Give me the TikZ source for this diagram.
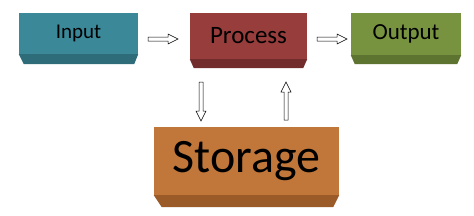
\documentclass[tikz,border=0pt]{standalone}
\usepackage{fontspec}
\setmainfont{Carlito}
\usetikzlibrary{calc}
\definecolor{inface}{HTML}{3B8899}
\definecolor{indark}{HTML}{2E6C7A}
\definecolor{prface}{HTML}{973D3C}
\definecolor{prdark}{HTML}{722C2C}
\definecolor{ouface}{HTML}{78933F}
\definecolor{oudark}{HTML}{5D7330}
\definecolor{stface}{HTML}{C2773A}
\definecolor{stdark}{HTML}{9B5B28}
\tikzset{
  face/.style={rectangle, inner sep=0pt, text=black},
  arrowline/.style={draw=black, fill=white, line width=0.5pt, line join=miter},
}
\newcommand{\blockarrow}[2]{%
  \coordinate (hb) at ($(#2)!10pt!(#1)$);
  \draw[arrowline] ($(#1)!2pt!90:(#2)$) -- ($(hb)!2pt!90:(#2)$) -- ($(hb)!5pt!90:(#2)$) -- (#2)
    -- ($(hb)!5pt!-90:(#2)$) -- ($(hb)!2pt!-90:(#2)$) -- ($(#1)!2pt!-90:(#2)$) -- cycle;}
\newcommand{\bevel}[5]{% name, depth, left inset, right inset, colour
  \fill[#5] (#1.south west) -- (#1.south east) -- ($(#1.south east)+(-#4,#2)$) -- ($(#1.south west)+(#3,#2)$) -- cycle;}
\begin{document}
\begin{tikzpicture}[x=1pt, y=-1pt]
\useasboundingbox (0,0) rectangle (474,215);
\node[face, fill=inface, minimum width=119pt, minimum height=41pt, font=\fontsize{21}{24}\selectfont] (input) at (78.5,33.5) {Input};
\bevel{input}{10}{5}{4}{indark}
\node[face, fill=prface, minimum width=117pt, minimum height=46pt, font=\fontsize{25}{28}\selectfont] (process) at (248.5,36) {Process};
\bevel{process}{9}{4}{4}{prdark}
\node[face, fill=ouface, minimum width=110pt, minimum height=42pt, font=\fontsize{23}{26}\selectfont] (output) at (406,34) {Output};
\bevel{output}{9}{4}{4}{oudark}
\node[face, fill=stface, minimum width=185pt, minimum height=68pt, font=\fontsize{48}{52}\selectfont] (storage) at (246.5,161) {Storage};
\bevel{storage}{12}{8}{6}{stdark}
\coordinate (a1s) at (148,39);
\coordinate (a1e) at (178,39);
\coordinate (a2s) at (317,39);
\coordinate (a2e) at (347,39);
\coordinate (a3s) at (201,82);
\coordinate (a3e) at (201,121);
\coordinate (a4s) at (286,120);
\coordinate (a4e) at (286,82);
\blockarrow{a1s}{a1e}
\blockarrow{a2s}{a2e}
\blockarrow{a3s}{a3e}
\blockarrow{a4s}{a4e}
\end{tikzpicture}
\end{document}
